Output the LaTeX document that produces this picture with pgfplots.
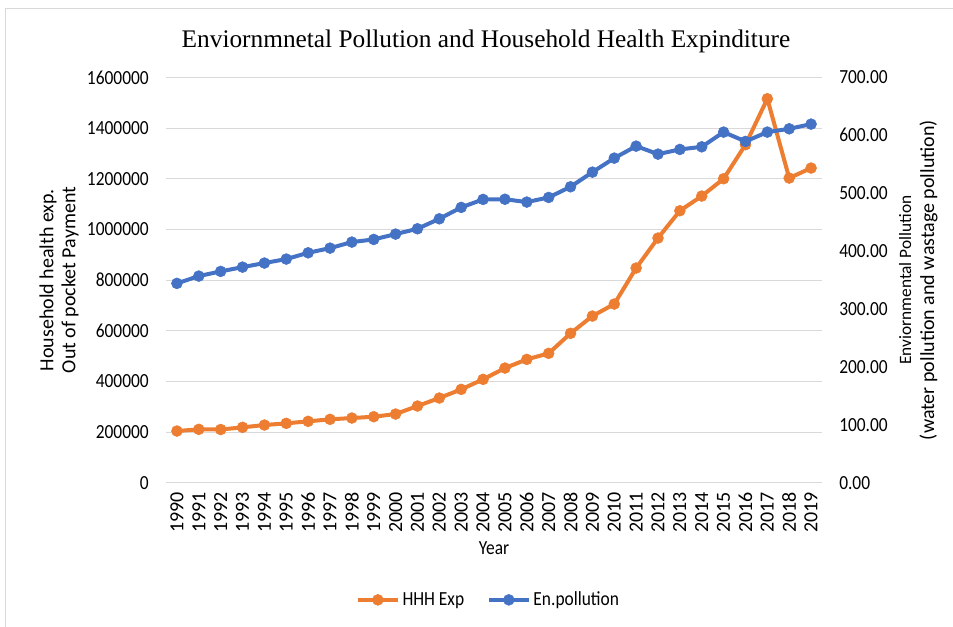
\documentclass[border=0pt]{standalone}
\usepackage{pgfplots}
\pgfplotsset{compat=1.18}
\usepackage{fontspec}
\setmainfont{Carlito}[FakeStretch=0.87]
\newfontfamily\rotfont{Carlito}
\newfontfamily\titlefont{Liberation Serif}
\definecolor{xlorange}{HTML}{ED7D31}
\definecolor{xlblue}{HTML}{4472C4}
\definecolor{gridgray}{HTML}{D9D9D9}
\definecolor{framegray}{HTML}{D9D9D9}

\pgfplotstableread{
year hhh
1990 204000
1991 210700
1992 210000
1993 218600
1994 227700
1995 234400
1996 242300
1997 250200
1998 255300
1999 260500
2000 271100
2001 302700
2002 334300
2003 368500
2004 408000
2005 452600
2006 486800
2007 510600
2008 589600
2009 657800
2010 705200
2011 847300
2012 965700
2013 1073400
2014 1131400
2015 1199700
2016 1334000
2017 1515400
2018 1202400
2019 1241900
}\hhhdata

\pgfplotstableread{
year pol
1990 344.2
1991 356.8
1992 364.9
1993 372.3
1994 379.3
1995 386.2
1996 397.0
1997 405.1
1998 415.5
1999 420.1
2000 429.3
2001 438.5
2002 455.7
2003 475.4
2004 489.2
2005 489.5
2006 484.6
2007 492.6
2008 511.0
2009 536.3
2010 560.5
2011 581.2
2012 567.4
2013 575.5
2014 580.0
2015 605.4
2016 589.3
2017 605.4
2018 611.1
2019 619.2
}\poldata

\begin{document}
\begin{tikzpicture}
\useasboundingbox (0pt,0pt) rectangle (714.75pt,470.25pt);
\draw[framegray, line width=0.75pt] (3.75pt,0pt) -- (3.75pt,463.5pt) -- (714.75pt,463.5pt);
\node[anchor=base, font=\titlefont\fontsize{19}{22}\selectfont] at (364.5pt,434.8pt) {Enviornmnetal Pollution and Household Health Expinditure};

\begin{axis}[
  at={(124.5pt,108.2pt)}, anchor=south west,
  scale only axis, width=492pt, height=304.05pt,
  xmin=1989.5, xmax=2019.5, ymin=0, ymax=1600000,
  xtick={1990,...,2019},
  ytick={0,200000,...,1600000},
  yticklabels={0,200000,400000,600000,800000,1000000,1200000,1400000,1600000},
  scaled y ticks=false,
  axis line style={draw=none},
  major tick length=0pt,
  ymajorgrids,
  grid style={color=gridgray, line width=0.75pt},
  /pgf/number format/assume math mode=true,
  /pgf/number format/fixed,
  /pgf/number format/1000 sep={},
  xticklabel style={font=\rotfont\fontsize{15}{18}\selectfont, rotate=90, anchor=east, inner sep=0pt},
  xticklabel shift=7pt,
  yticklabel style={font=\fontsize{15}{18}\selectfont, anchor=east, inner sep=0pt},
  yticklabel shift=12.75pt,
  xlabel={Year},
  xlabel style={font=\fontsize{15}{18}\selectfont, at={(rel axis cs:0.5,-0.161)}, anchor=center},
  ylabel={Household health exp.\\Out of pocket Payment},
  ylabel style={font=\rotfont\fontsize{15}{16.5}\selectfont, align=center, at={(rel axis cs:-0.163,0.5)}, anchor=center},
  clip=false,
]
\addplot[color=xlorange, line width=3pt, mark=*, mark size=4.1pt, mark options={solid, fill=xlorange, draw=xlorange, line width=0.4pt}] table[x=year, y=hhh] {\hhhdata};
\end{axis}

\begin{axis}[
  at={(124.5pt,108.2pt)}, anchor=south west,
  scale only axis, width=492pt, height=304.05pt,
  xmin=1989.5, xmax=2019.5, ymin=0, ymax=700,
  hide x axis,
  axis y line*=right,
  axis line style={draw=none},
  major tick length=0pt,
  ytick={0,100,200,300,400,500,600,700},
  yticklabels={0.00,100.00,200.00,300.00,400.00,500.00,600.00,700.00},
  yticklabel style={font=\fontsize{15}{18}\selectfont, anchor=west, inner sep=0pt},
  yticklabel shift=12.75pt,
  ylabel={{\fontsize{13}{15}\selectfont Enviornmental Pollution}\\(water pollution and wastage pollution)},
  ylabel style={font=\rotfont\fontsize{15}{17.25}\selectfont, align=center, at={(rel axis cs:1.147,0.5)}, anchor=center},
  legend style={at={(0.492,-0.289)}, anchor=center, draw=none, fill=none, legend columns=2, font=\fontsize{15}{18}\selectfont, /tikz/every even column/.append style={column sep=15pt}},
  legend image code/.code={\draw[mark repeat=2,mark phase=2,#1] plot coordinates {(0pt,0pt) (15pt,0pt) (30pt,0pt)};},
  clip=false,
]
\addlegendimage{color=xlorange, line width=3pt, mark=*, mark size=4.1pt, mark options={solid, fill=xlorange, draw=xlorange, line width=0.4pt}}
\addlegendentry{HHH Exp}
\addplot[color=xlblue, line width=3pt, mark=*, mark size=4.1pt, mark options={solid, fill=xlblue, draw=xlblue, line width=0.4pt}] table[x=year, y=pol] {\poldata};
\addlegendentry{En.pollution}
\end{axis}
\end{tikzpicture}
\end{document}
